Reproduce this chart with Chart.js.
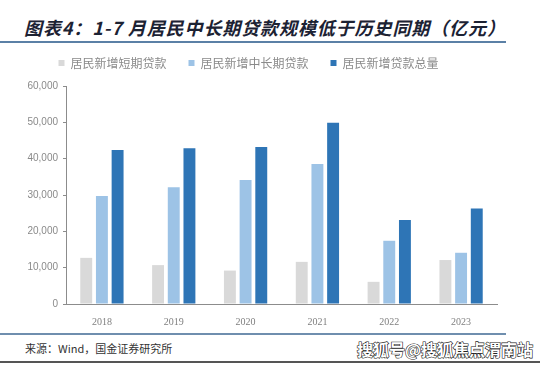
<!DOCTYPE html>
<html>
<head>
<meta charset="utf-8">
<script src="https://cdn.jsdelivr.net/npm/chart.js@4"></script>
<style>
  html, body { margin: 0; padding: 0; background: #fff; }
  body { width: 540px; height: 366px; position: relative; overflow: hidden; font-family: "Noto Sans CJK SC", sans-serif; }
  .title { position: absolute; left: 24px; top: 14px; font-size: 18px; font-weight: bold; font-style: italic; color: #1c2233; letter-spacing: 0.9px; white-space: nowrap; }
  .line-top { position: absolute; left: 0; top: 41px; width: 506px; height: 2px; background: #5b80a6; }
  .chart-box { position: absolute; left: 0; top: 35px; width: 540px; height: 293px; }
  .line-foot { position: absolute; left: 0; top: 333px; width: 506px; height: 2px; background: #6f8eae; }
  .source { position: absolute; left: 25px; top: 340px; font-size: 11px; color: #333; white-space: nowrap; }
  .mark { position: absolute; left: 357px; top: 337px; font-size: 16px; font-weight: bold; color: #fff; -webkit-text-stroke: 1.2px #222; paint-order: stroke fill; white-space: nowrap; }
  .line-bottom { position: absolute; left: 0; top: 361px; width: 540px; height: 2px; background: #555; }
</style>
</head>
<body>
<div class="title">图表4：1-7 月居民中长期贷款规模低于历史同期（亿元）</div>
<div class="line-top"></div>
<div class="chart-box"><canvas id="loanChart" width="540" height="293"></canvas></div>
<div class="line-foot"></div>
<div class="source">来源：Wind，国金证券研究所</div>
<div class="mark">搜狐号@搜狐焦点渭南站</div>
<div class="line-bottom"></div>
<script>
const years = ['2018', '2019', '2020', '2021', '2022', '2023'];
const shortLoans = [12700, 10700, 9200, 11600, 6100, 12100];
const longLoans = [29700, 32100, 34100, 38500, 17400, 14100];
const totalLoans = [42400, 42900, 43200, 49900, 23100, 26300];
const seriesNames = ['居民新增短期贷款', '居民新增中长期贷款', '居民新增贷款总量'];
const seriesColors = ['#d9d9d9', '#9dc3e6', '#2e75b6'];

// legend takes a fixed height so the plot area lines up
const legendHeight = {
  id: 'legendHeight',
  beforeInit(chart) {
    const fit = chart.legend.fit;
    chart.legend.fit = function() {
      fit.bind(chart.legend)();
      this.height = 51;
    };
  }
};

const ctx = document.getElementById('loanChart').getContext('2d');
new Chart(ctx, {
  type: 'bar',
  data: {
    labels: years,
    datasets: [shortLoans, longLoans, totalLoans].map((d, i) => ({
      label: seriesNames[i],
      data: d,
      backgroundColor: seriesColors[i],
      categoryPercentage: 0.655,
      barPercentage: 0.76
    }))
  },
  options: {
    responsive: false,
    animation: false,
    layout: { padding: { left: 0, right: 43, top: 0, bottom: 0 } },
    plugins: {
      legend: {
        position: 'top',
        labels: {
          boxWidth: 6,
          boxHeight: 6,
          padding: 22,
          color: '#8a8a8a',
          font: { size: 12, family: '"Noto Sans CJK SC", sans-serif' }
        }
      },
      tooltip: { enabled: false }
    },
    scales: {
      x: {
        grid: { display: false },
        border: { display: true, color: '#8c8c8c', width: 1 },
        ticks: { color: '#7f7f7f', font: { size: 10, family: '"Liberation Serif", serif' }, padding: 4 },
        afterFit(scale) { scale.height = 24; }
      },
      y: {
        min: 0,
        max: 60000,
        ticks: {
          stepSize: 10000,
          color: '#8a8a8a',
          padding: 5,
          font: { size: 10, family: '"Liberation Sans", sans-serif' },
          callback: v => v.toLocaleString('en-US')
        },
        grid: { drawOnChartArea: false, drawTicks: true, tickLength: 3, color: '#8c8c8c' },
        border: { display: true, color: '#8c8c8c', width: 1 },
        afterFit(scale) { scale.width = 66; }
      }
    }
  },
  plugins: [legendHeight]
});
</script>
</body>
</html>
